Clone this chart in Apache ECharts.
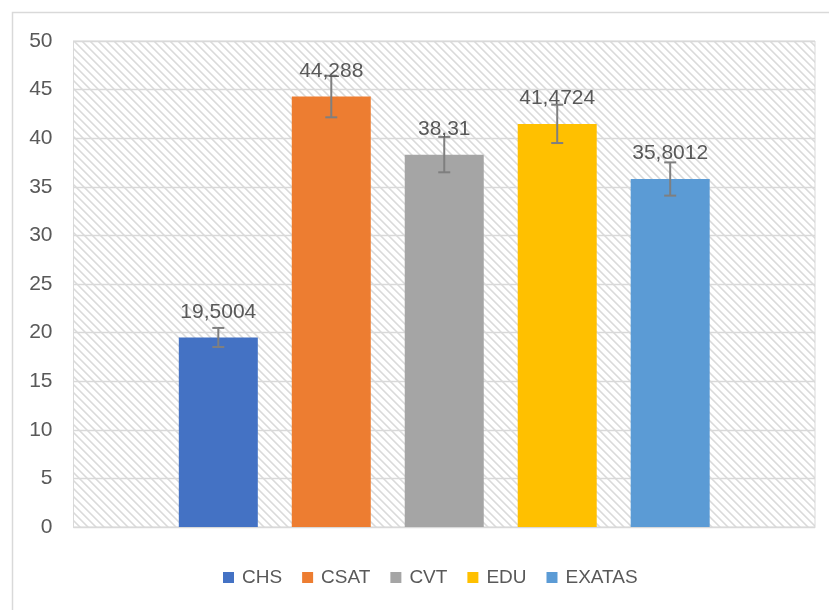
<!DOCTYPE html>
<html>
<head>
<meta charset="utf-8">
<script src="https://cdn.jsdelivr.net/npm/echarts@6/dist/echarts.min.js"></script>
<style>html,body{margin:0;padding:0;background:#fff;}#c{width:829px;height:610px;}</style>
</head>
<body>
<div id="c"></div>
<script>
var seriesNames = ['CHS', 'CSAT', 'CVT', 'EDU', 'EXATAS'];
var seriesValues = [19.5004, 44.288, 38.31, 41.4724, 35.8012];
var errorValues = [0.98, 2.14, 1.82, 1.97, 1.71];
var seriesColors = ['#4472C4', '#ED7D31', '#A5A5A5', '#FFC000', '#5B9BD5'];
var yTicks = [0, 5, 10, 15, 20, 25, 30, 35, 40, 45, 50];

var BAR_W = 79, GAP = 0.43;
var TXT = '#595959';
var FONT = '"Liberation Sans", Arial, sans-serif';

// hatch pattern tile
var tile = document.createElement('canvas');
tile.width = 8; tile.height = 8;
var tctx = tile.getContext('2d');
tctx.fillStyle = '#ffffff'; tctx.fillRect(0, 0, 8, 8);
for (var y = 0; y < 8; y++) {
  for (var x = 0; x < 8; x++) {
    var d = ((x - y) % 8 + 8) % 8;
    if (d === 0) { tctx.fillStyle = '#e6e6e6'; tctx.fillRect(x, y, 1, 1); }
    else if (d === 1) { tctx.fillStyle = '#dadada'; tctx.fillRect(x, y, 1, 1); }
    else if (d === 2) { tctx.fillStyle = '#ebebeb'; tctx.fillRect(x, y, 1, 1); }
  }
}

var chart = echarts.init(document.getElementById('c'), null, {renderer: 'canvas'});

var series = seriesNames.map(function (n, i) {
  return {
    name: n,
    type: 'bar',
    data: [seriesValues[i]],
    barWidth: BAR_W,
    barGap: (GAP * 100) + '%',
    itemStyle: {color: seriesColors[i]},
    z: 2
  };
});

var errData = seriesNames.map(function (n, i) {
  return [0, seriesValues[i], errorValues[i], i];
});

series.push({
  type: 'custom',
  name: 'err',
  z: 5,
  silent: true,
  data: errData,
  renderItem: function (params, api) {
    var n = seriesNames.length;
    var idx = api.value(3);
    var v = api.value(1), e = api.value(2);
    var c = api.coord([api.value(0), v]);
    var x = c[0] + (idx - (n - 1) / 2) * BAR_W * (1 + GAP);
    var top = api.coord([api.value(0), v + e])[1];
    var bot = api.coord([api.value(0), v - e])[1];
    var ls = {stroke: '#7f7f7f', lineWidth: 2};
    var txt = String(v).replace('.', ',');
    return {
      type: 'group',
      children: [
        {type: 'line', shape: {x1: x, y1: top, x2: x, y2: bot}, style: ls},
        {type: 'line', shape: {x1: x - 6, y1: top, x2: x + 6, y2: top}, style: ls},
        {type: 'line', shape: {x1: x - 6, y1: bot, x2: x + 6, y2: bot}, style: ls},
        {type: 'text', z2: 10, style: {
          text: txt, x: x, y: c[1] - 15, align: 'center', verticalAlign: 'bottom',
          fill: TXT, font: '21px ' + FONT
        }}
      ]
    };
  }
});

chart.setOption({
  animation: false,
  backgroundColor: '#ffffff',
  graphic: [{
    type: 'rect', left: 10, top: 10, silent: true,
    shape: {width: 840, height: 620},
    style: {fill: 'none', stroke: '#d9d9d9', lineWidth: 1.5}
  }],
  grid: {
    left: 73.5, right: 14, top: 41, bottom: 83,
    show: true,
    borderColor: '#d9d9d9', borderWidth: 1,
    backgroundColor: {image: tile, repeat: 'repeat'}
  },
  legend: {
    data: seriesNames,
    bottom: 18,
    left: 218,
    icon: 'rect',
    itemWidth: 11, itemHeight: 11,
    itemGap: 20,
    textStyle: {color: TXT, fontSize: 19, fontFamily: FONT, padding: [0, 0, 0, 3]}
  },
  xAxis: {
    type: 'category',
    data: [''],
    axisLine: {show: true, lineStyle: {color: '#d9d9d9', width: 1}},
    axisTick: {show: false},
    axisLabel: {show: false}
  },
  yAxis: {
    type: 'value',
    min: yTicks[0], max: yTicks[yTicks.length - 1], interval: 5,
    axisLine: {show: true, lineStyle: {color: '#d9d9d9', width: 1}},
    axisTick: {show: false},
    splitLine: {lineStyle: {color: '#d9d9d9', width: 1.3}},
    axisLabel: {color: TXT, fontSize: 21, fontFamily: FONT, margin: 21}
  },
  series: series
});
</script>
</body>
</html>
